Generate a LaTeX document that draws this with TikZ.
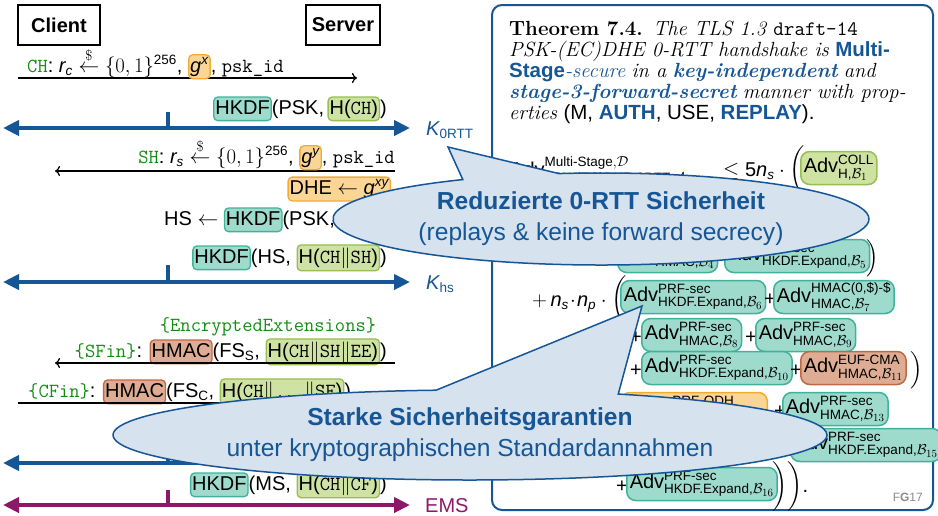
\documentclass[tikz,border=0pt]{standalone}
\usepackage{amsmath}
\usepackage{fontspec}
\setsansfont{Liberation Sans}
\usetikzlibrary{shapes.callouts,arrows.meta}
\DeclareMathSizes{20}{20}{13.5}{11}
\DeclareMathSizes{13.5}{13.5}{10.5}{8}
\definecolor{dblue}{RGB}{22,86,150}
\definecolor{tealF}{RGB}{158,219,204}
\definecolor{tealD}{RGB}{64,178,156}
\definecolor{grnF}{RGB}{206,226,164}
\definecolor{grnD}{RGB}{150,190,80}
\definecolor{orF}{RGB}{250,214,150}
\definecolor{orD}{RGB}{240,172,50}
\definecolor{brF}{RGB}{222,172,146}
\definecolor{brD}{RGB}{190,105,70}
\definecolor{purp}{RGB}{140,24,104}
\definecolor{msggreen}{RGB}{20,140,20}
\definecolor{callF}{RGB}{214,226,238}
\newcommand{\mi}[1]{\textsf{\itshape #1}}
\newcommand{\hb}[3]{\tikz[baseline=(hbx.base)]\node[fill=#1,draw=#2,line width=1.3pt,rounded corners=4pt,inner xsep=1.5pt,inner ysep=2.5pt](hbx){\vphantom{(}#3};}
\newcommand{\adv}[2]{\textsf{Adv}$^{\textsf{#1}}_{\textsf{#2}}$}
\newcommand{\gtt}[1]{{\ttfamily\color{msggreen}#1}}
\newcommand{\rnd}{\mathrel{\overset{\scriptstyle\$}{\leftarrow}}}
\begin{document}
\begin{tikzpicture}[x=1pt,y=-1pt,every node/.style={inner sep=0pt},
  lp/.style={font=\fontsize{20}{24}\selectfont\sffamily},
  msg/.style={line width=1.3pt,-{To[length=5pt,width=10pt]}},
  keyar/.style={line width=4pt,{Triangle[length=16pt,width=15pt]}-{Triangle[length=16pt,width=15pt]}},
  keytick/.style={line width=4pt},
  party/.style={draw,line width=1.5pt,font=\fontsize{20}{24}\selectfont\sffamily\bfseries,minimum height=40pt},
  sbox/.style={rounded corners=4pt,line width=1.3pt,inner xsep=1.5pt,inner ysep=2.5pt},
  abox/.style={rounded corners=9pt,line width=1.5pt,inner xsep=3pt,inner ysep=1pt,minimum height=33pt,anchor=west,font=\fontsize{20}{24}\selectfont\sffamily},
  tealbox/.style={abox,fill=tealF,draw=tealD},
  greenbox/.style={abox,fill=grnF,draw=grnD},
  orangebox/.style={abox,fill=orF,draw=orD},
  brownbox/.style={abox,fill=brF,draw=brD},
  fm/.style={anchor=base west,font=\fontsize{20}{24}\selectfont\sffamily},
  th/.style={anchor=base west,font=\fontsize{20.5}{21.3}\selectfont},
  callout/.style={ellipse callout,fill=callF,draw=dblue,line width=1.5pt,text=dblue,align=center,inner sep=0pt,font=\fontsize{24.6}{31}\selectfont\sffamily}
]
\useasboundingbox (0,0) rectangle (938,515);
% ---------- left panel ----------
\node[party,minimum width=82pt] (client) at (59,25) {Client};
\node[party,minimum width=74pt] (server) at (343,25) {Server};

\coordinate (chL) at (18,78); \coordinate (chR) at (357,78);
\draw[msg] (chL) -- (chR);
\node[lp,anchor=base west] (chlab) at (27,72) {\gtt{CH}: $\mi{r}_{\mi{c}}\rnd\{0,1\}^{\textsf{256}}$, \hb{orF}{orD}{$\mi{g}^{\mi{x}}$}, \texttt{psk\_id}};
\node[lp,anchor=base east] (k0hkdf) at (387,114) {\hb{tealF}{tealD}{HKDF}(PSK,\,\hb{grnF}{grnD}{H(\texttt{CH})})};

\coordinate (k0L) at (3,128); \coordinate (k0R) at (410,128);
\coordinate (k0t) at (168,112); \coordinate (k0b) at (168,128);
\draw[keyar,dblue] (k0L) -- (k0R);
\draw[keytick,dblue] (k0t) -- (k0b);
\node[lp,anchor=base west,text=dblue] (k0lab) at (426,135) {$\mi{K}_{\textsf{0RTT}}$};

\coordinate (shL) at (55,171); \coordinate (shR) at (395,171);
\draw[msg] (shR) -- (shL);
\node[lp,anchor=base east] (shlab) at (395,163) {\gtt{SH}: $\mi{r}_{\mi{s}}\rnd\{0,1\}^{\textsf{256}}$, \hb{orF}{orD}{$\mi{g}^{\mi{y}}$}, \texttt{psk\_id}};
\node[lp,sbox,fill=orF,draw=orD,anchor=east] (dhe) at (391,189) {DHE $\leftarrow$ $\mi{g}^{\mi{xy}}$};
\node[lp,anchor=base west] (hs) at (164,225) {HS $\leftarrow$ \hb{tealF}{tealD}{HKDF}(PSK, DHE)};
\node[lp,anchor=base east] (hshkdf) at (387,263) {\hb{tealF}{tealD}{HKDF}(HS, \hb{grnF}{grnD}{H(\texttt{CH}$\|$\texttt{SH})})};

\coordinate (hsL) at (3,282); \coordinate (hsR) at (410,282);
\coordinate (hst) at (168,265); \coordinate (hsb) at (168,282);
\draw[keyar,dblue] (hsL) -- (hsR);
\draw[keytick,dblue] (hst) -- (hsb);
\node[lp,anchor=base west,text=dblue] (hslab) at (426,289) {$\mi{K}_{\textsf{hs}}$};

\node[lp,anchor=base] (ee) at (268,331) {\gtt{\{EncryptedExtensions\}}};
\node[lp,anchor=base east] (sfin) at (387,357) {\gtt{\{SFin\}}: \hb{brF}{brD}{HMAC}(FS$_{\textsf{S}}$, \hb{grnF}{grnD}{H(\texttt{CH}$\|$\texttt{SH}$\|$\texttt{EE})})};
\coordinate (sfL) at (55,363); \coordinate (sfR) at (395,363);
\draw[msg] (sfR) -- (sfL);

\node[lp,anchor=base west] (cfin) at (28,397) {\gtt{\{CFin\}}: \hb{brF}{brD}{HMAC}(FS$_{\textsf{C}}$, \hb{grnF}{grnD}{H(\texttt{CH}$\|\ldots\|$\texttt{SF})})};
\coordinate (cfL) at (18,403); \coordinate (cfR) at (357,403);
\draw[msg] (cfL) -- (cfR);

\coordinate (apL) at (3,463); \coordinate (apR) at (410,463);
\coordinate (apt) at (168,447); \coordinate (apb) at (168,463);
\draw[keyar,dblue] (apL) -- (apR);
\draw[keytick,dblue] (apt) -- (apb);

\node[lp,anchor=base east] (mshkdf) at (387,490) {\hb{tealF}{tealD}{HKDF}(MS, \hb{grnF}{grnD}{H(\texttt{CH}$\|$\texttt{CF})})};
\coordinate (emL) at (3,505); \coordinate (emR) at (410,505);
\coordinate (emt) at (168,490); \coordinate (emb) at (168,505);
\draw[keyar,purp] (emL) -- (emR);
\draw[keytick,purp] (emt) -- (emb);
\node[lp,anchor=base west,text=purp] (emlab) at (425,512) {EMS};

% ---------- theorem box ----------
\node[draw=dblue,line width=2pt,rounded corners=10pt,minimum width=441pt,minimum height=505pt] (thm) at (712.5,257.5) {};
\node[th] (t1) at (509,35) {\textbf{Theorem 7.4.}\enspace\textit{The TLS 1.3} \texttt{draft-14}};
\node[th] (t2) at (509,56) {\textit{PSK-(EC)DHE 0-RTT handshake is} {\sffamily\bfseries\color{dblue}Multi-}};
\node[th] (t3) at (509,77) {{\sffamily\bfseries\color{dblue}Stage}{\color{dblue}\textit{-secure}} \textit{in a} {\color{dblue}\bfseries\itshape key-independent} \textit{and}};
\node[th] (t4) at (509,98) {{\color{dblue}\bfseries\itshape stage-3-forward-secret} \textit{manner with prop-}};
\node[th] (t5) at (509,119) {\textit{erties} \textsf{(M, {\bfseries\color{dblue}AUTH}, USE, {\bfseries\color{dblue}REPLAY}).}};

\node[fm] (f0) at (510,176) {\textsf{Adv}$^{\textsf{Multi-Stage},\mathcal{D}}_{\textsf{PSK-(EC)DHE-0RTT},\mathcal{A}}$};
\node[fm] (f0b) at (723,176) {$\leq \textsf{5}\mi{n}_{\mi{s}}\cdot\biggl($};
\node[greenbox] (b1) at (800,168) {\adv{COLL}{H,$\mathcal{B}_1$}};

\node[tealbox,minimum width=88pt] (b4) at (617,256) {\adv{PRF-sec}{HMAC,$\mathcal{B}_4$}};
\node[tealbox] (b5) at (724,256) {\adv{PRF-sec}{HKDF.Expand,$\mathcal{B}_5$}};
\node[fm] (p5) at (866,264) {$\Bigr)$};

\node[fm] (f2) at (532,306) {$+\,\mi{n}_{\mi{s}}\!\cdot\!\mi{n}_{\mi{p}}\cdot\biggl($};
\node[tealbox] (b6) at (620,297) {\adv{PRF-sec}{HKDF.Expand,$\mathcal{B}_6$}};
\node[fm] (pl7) at (764,305) {+};
\node[tealbox] (b7) at (773,297) {\adv{HMAC(0,\$)-\$}{HMAC,$\mathcal{B}_7$}};

\node[fm] (pl8) at (630,343) {+};
\node[tealbox] (b8) at (641,335) {\adv{PRF-sec}{HMAC,$\mathcal{B}_8$}};
\node[fm] (pl9) at (745,343) {+};
\node[tealbox] (b9) at (755,335) {\adv{PRF-sec}{HMAC,$\mathcal{B}_9$}};

\node[fm] (pl10) at (630,376) {+};
\node[tealbox] (b10) at (641,368) {\adv{PRF-sec}{HKDF.Expand,$\mathcal{B}_{10}$}};
\node[fm] (pl11) at (790,376) {+};
\node[brownbox] (b11) at (800,368) {\adv{EUF-CMA}{HMAC,$\mathcal{B}_{11}$}};
\node[fm] (p11) at (910,376) {$\Bigr)$};

\node[orangebox] (b12) at (620,409) {\adv{snPRF-ODH}{HKDF.Extract,$\mathcal{B}_{12}$}};
\node[fm] (pl13) at (774,417) {+};
\node[tealbox] (b13) at (782,409) {\adv{PRF-sec}{HMAC,$\mathcal{B}_{13}$}};
\node[tealbox] (b15) at (790,445) {\adv{PRF-sec}{HKDF.Expand,$\mathcal{B}_{15}$}};

\node[fm] (pl16) at (616,492) {+};
\node[tealbox] (b16) at (626,484) {\adv{PRF-sec}{HKDF.Expand,$\mathcal{B}_{16}$}};
\node[fm] (p16) at (772,492) {$\biggr)\biggr)$.};

\node[anchor=east,font=\fontsize{12}{14}\selectfont\sffamily,text=black!45] (fg) at (923,497) {F\textbf{G}17};

% ---------- callouts ----------
\node[callout,minimum width=536pt,minimum height=92pt,callout absolute pointer={(448,147)},callout pointer arc=22] (c1) at (601,219) {\textbf{Reduzierte 0-RTT Sicherheit}\\(replays \& keine forward secrecy)};
\node[callout,minimum width=714pt,minimum height=90pt,callout absolute pointer={(642,306)},callout pointer arc=30] (c2) at (470,435) {\textbf{Starke Sicherheitsgarantien}\\unter kryptographischen Standardannahmen};
\end{tikzpicture}
\end{document}
